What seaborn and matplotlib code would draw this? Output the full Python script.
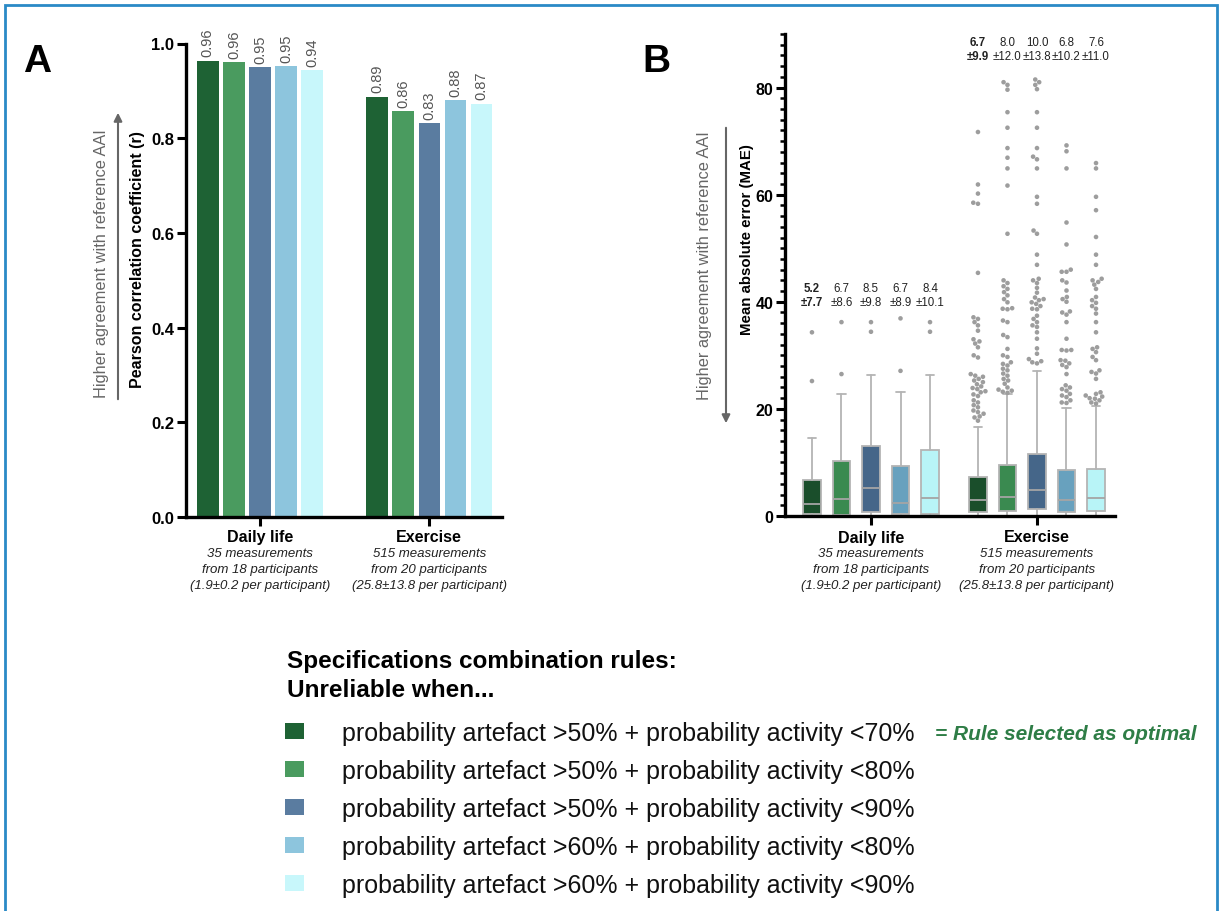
import numpy as np
import pandas as pd
import matplotlib
matplotlib.use("Agg")
import matplotlib.pyplot as plt
import matplotlib.patches as mpatches
from matplotlib.ticker import MultipleLocator
import seaborn as sns

# ------------------------------------------------------------------
# data
# ------------------------------------------------------------------
groups = ['Daily life', 'Exercise']
group_notes = ['35 measurements\nfrom 18 participants\n(1.9±0.2 per participant)',
               '515 measurements\nfrom 20 participants\n(25.8±13.8 per participant)']
rules = ['probability artefact >50% + probability activity <70%',
         'probability artefact >50% + probability activity <80%',
         'probability artefact >50% + probability activity <90%',
         'probability artefact >60% + probability activity <80%',
         'probability artefact >60% + probability activity <90%']
colors_a = ['#1e6234', '#4a9b5f', '#5a7ca0', '#8dc5dd', '#c8f7fb']
colors_b = ['#1a4e2b', '#3a8a50', '#456689', '#68a1be', '#b8f4f7']

# panel A: Pearson r
pearson_daily = [0.964, 0.960, 0.950, 0.953, 0.943]
pearson_exercise = [0.888, 0.857, 0.832, 0.880, 0.873]

# panel B: mean +- sd annotations
mae_mean_daily = [5.2, 6.7, 8.5, 6.7, 8.4]
mae_sd_daily = [7.7, 8.6, 9.8, 8.9, 10.1]
mae_mean_ex = [6.7, 8.0, 10.0, 6.8, 7.6]
mae_sd_ex = [9.9, 12.0, 13.8, 10.2, 11.0]

# panel B: box summary (whisker low, q1, median, q3, whisker high)
daily_wlo = [0, 0, 0, 0, 0]
daily_q1 = [0.4, 0.1, 0.7, 0.4, 0.3]
daily_med = [2.3, 3.2, 5.2, 2.4, 3.4]
daily_q3 = [6.8, 10.2, 13.0, 9.4, 12.3]
daily_whi = [14.6, 22.7, 26.4, 23.1, 26.4]
ex_wlo = [0, 0, 0, 0, 0]
ex_q1 = [0.8, 1.0, 1.3, 0.8, 0.9]
ex_med = [2.9, 3.6, 4.9, 3.0, 3.4]
ex_q3 = [7.35, 9.6, 11.5, 8.5, 8.8]
ex_whi = [16.7, 22.8, 27.0, 20.2, 20.6]

# panel B: outliers
daily_out = [[34.3, 25.2], [36.2, 26.5], [36.2, 34.4], [36.9, 27.1], [36.2, 34.4]]
ex_out = [
    [71.7, 61.9, 60.2, 58.5, 58.3, 45.4, 37.1, 36.8, 36.2, 35.6, 34.6, 33.0, 32.6, 32.2,
     31.5, 30.0, 29.6, 26.5, 26.2, 26.0, 25.6, 25.3, 25.0, 24.6, 24.2, 23.9, 23.7, 23.3,
     23.1, 22.7, 22.4, 21.6, 21.2, 20.7, 20.3, 19.7, 19.4, 19.1, 18.6, 18.4, 17.8],
    [81.0, 80.5, 79.6, 75.4, 72.5, 68.7, 66.9, 64.9, 61.7, 52.7, 44.0, 43.5, 42.9, 42.4,
     41.8, 41.2, 40.5, 39.9, 38.8, 38.7, 38.6, 36.5, 36.2, 33.8, 33.4, 31.2, 30.0, 29.7,
     28.7, 28.4, 28.1, 27.5, 27.2, 26.6, 26.2, 25.6, 25.3, 24.7, 24.0, 23.6, 23.4, 23.2, 23.0],
    [81.5, 81.0, 80.5, 79.7, 75.4, 72.5, 68.7, 67.1, 66.6, 64.9, 59.6, 58.3, 53.3, 52.7,
     48.8, 46.9, 44.3, 44.0, 43.5, 42.6, 41.7, 40.8, 40.5, 40.3, 39.9, 39.6, 39.2, 38.7,
     38.6, 37.4, 36.8, 36.2, 35.6, 35.3, 34.3, 33.1, 31.3, 30.3, 29.3, 28.9, 28.7, 28.5],
    [69.2, 68.1, 64.9, 54.8, 50.7, 46.0, 45.6, 45.6, 44.0, 43.6, 42.1, 40.9, 40.5, 40.0,
     38.2, 38.0, 37.6, 36.2, 33.1, 31.0, 31.0, 30.9, 29.1, 29.0, 28.5, 28.2, 27.8, 26.5,
     24.4, 24.0, 23.7, 23.4, 22.8, 22.5, 22.2, 21.6, 21.2, 21.1],
    [65.9, 64.9, 59.6, 57.1, 52.1, 48.8, 46.9, 44.3, 44.0, 43.7, 43.2, 42.4, 40.9, 40.3,
     39.8, 39.2, 38.7, 37.8, 36.2, 34.3, 31.5, 31.2, 30.6, 29.7, 29.1, 27.2, 26.9, 26.6,
     25.6, 23.1, 22.8, 22.5, 22.3, 22.0, 21.9, 21.6, 21.2, 21.0],
]

# ------------------------------------------------------------------
# setup
# ------------------------------------------------------------------
sns.set_theme(style="ticks")
plt.rcParams['font.family'] = ['Liberation Sans', 'DejaVu Sans']
plt.rcParams['text.color'] = 'black'
plt.rcParams['xtick.color'] = 'black'
plt.rcParams['ytick.color'] = 'black'

W, H = 1220, 912
fig = plt.figure(figsize=(W / 100, H / 100), dpi=100)


def fx(x):
    return x / W


def fy(y):
    return 1 - y / H


axA = fig.add_axes([fx(186), fy(518), (502 - 186) / W, (518 - 44.5) / H])
axB = fig.add_axes([fx(785), fy(517), (1115 - 785) / W, (517 - 35) / H])

# ------------------------------------------------------------------
# panel A
# ------------------------------------------------------------------
df_a = pd.DataFrame({
    'group': np.repeat(groups, len(rules)),
    'rule': rules * 2,
    'r': pearson_daily + pearson_exercise,
})
sns.barplot(data=df_a, x='group', y='r', hue='rule', order=groups, hue_order=rules,
            palette=colors_a, saturation=1, width=0.77, gap=0.18, errorbar=None,
            legend=False, linewidth=0, ax=axA)
for cont in axA.containers:
    axA.bar_label(cont, fmt='%.2f', rotation=90, padding=3, color='#555555',
                  fontsize=10.5)

axA.set_ylim(0, 1.0)
axA.set_xlim(-0.437, 1.43)
yt = np.arange(0, 1.01, 0.2)
axA.set_yticks(yt)
axA.set_yticklabels([f'{v:.1f}' for v in yt], fontweight='bold', fontsize=12)
axA.set_xticks([0, 1])
axA.set_xticklabels(['', ''])
axA.set_xlabel('')
axA.set_ylabel('')

# ------------------------------------------------------------------
# panel B
# ------------------------------------------------------------------
dodge_w = 0.889
step = dodge_w / len(rules)
offsets = (np.arange(len(rules)) - 2) * step

rows = []
for gi, outs in enumerate([daily_out, ex_out]):
    for k, vals in enumerate(outs):
        for v in vals:
            rows.append({'pos': round(gi + offsets[k], 4), 'rule': rules[k], 'mae': v})
df_out = pd.DataFrame(rows)

sns.swarmplot(data=df_out, x='pos', y='mae', hue='rule', hue_order=rules,
              native_scale=True, palette={r: '#9d9d9d' for r in rules}, size=3.3,
              linewidth=0, legend=False, ax=axB, warn_thresh=1)

stats = []
positions = []
box_colors = []
summ = [(daily_wlo, daily_q1, daily_med, daily_q3, daily_whi),
        (ex_wlo, ex_q1, ex_med, ex_q3, ex_whi)]
for gi, (wlo, q1, med, q3, whi) in enumerate(summ):
    for k in range(len(rules)):
        stats.append({'whislo': wlo[k], 'q1': q1[k], 'med': med[k], 'q3': q3[k],
                      'whishi': whi[k], 'fliers': []})
        positions.append(gi + offsets[k])
        box_colors.append(colors_b[k])

line_c = '#b4b4b4'
bp = axB.bxp(stats, positions=positions, widths=0.108, patch_artist=True,
             showfliers=False, manage_ticks=False, capwidths=0.05,
             boxprops=dict(edgecolor=line_c, linewidth=1.3),
             whiskerprops=dict(color=line_c, linewidth=1.3),
             capprops=dict(color=line_c, linewidth=1.3),
             medianprops=dict(color='#a5a5a5', linewidth=1.3))
for patch, c in zip(bp['boxes'], box_colors):
    patch.set_facecolor(c)

# mean +- sd above the boxes
for gi, (means, sds, ytxt) in enumerate([(mae_mean_daily, mae_sd_daily, 41.2),
                                          (mae_mean_ex, mae_sd_ex, 87.2)]):
    for k in range(len(rules)):
        axB.text(gi + offsets[k], ytxt, f'{means[k]:.1f}\n±{sds[k]:.1f}',
                 ha='center', va='center', fontsize=8.3, color='#222222',
                 fontweight='bold' if k == 0 else 'normal', linespacing=1.2)

axB.set_xlim(-0.518, 1.47)
axB.set_ylim(0, 90)
axB.set_yticks([0, 20, 40, 60, 80])
axB.set_yticklabels(['0', '20', '40', '60', '80'], fontweight='bold', fontsize=11.5)
axB.yaxis.set_minor_locator(MultipleLocator(2))
axB.set_xticks([0, 1])
axB.set_xticklabels(['', ''])
axB.set_xlabel('')
axB.set_ylabel('')

# ------------------------------------------------------------------
# shared axis styling
# ------------------------------------------------------------------
for ax, ybase in [(axA, (518, 474)), (axB, (517, 482))]:
    sns.despine(ax=ax)
    for s in ['left', 'bottom']:
        ax.spines[s].set_linewidth(2.4)
        ax.spines[s].set_color('black')
    ax.tick_params(axis='both', which='major', length=6.5, width=2.2, color='black',
                   pad=2)
    ax.tick_params(axis='y', which='minor', length=3.8, width=1.8, color='black')
    ax.set_facecolor('white')
    y_lab = -(538 - ybase[0]) / ybase[1]
    y_note = -(570 - ybase[0]) / ybase[1]
    for gi in range(2):
        ax.text(gi, y_lab, groups[gi], transform=ax.get_xaxis_transform(),
                ha='center', va='center', fontweight='bold', fontsize=11.5)
        ax.text(gi, y_note, group_notes[gi], transform=ax.get_xaxis_transform(),
                ha='center', va='center', fontstyle='italic', fontsize=9.5,
                color='#222222', linespacing=1.45)

# y labels and the "higher agreement" arrows
fig.text(fx(137.5), fy(260), 'Pearson correlation coefficient (r)', rotation=90,
         ha='center', va='center', fontweight='bold', fontsize=11.5)
fig.text(fx(101.5), fy(264), 'Higher agreement with reference AAI', rotation=90,
         ha='center', va='center', color='#666666', fontsize=11.8)
fig.text(fx(747), fy(240), 'Mean absolute error (MAE)', rotation=90,
         ha='center', va='center', fontweight='bold', fontsize=10.8)
fig.text(fx(705), fy(266), 'Higher agreement with reference AAI', rotation=90,
         ha='center', va='center', color='#666666', fontsize=11.8)
fig.add_artist(mpatches.FancyArrowPatch((fx(118), fy(403)), (fx(118), fy(111)),
                                        transform=fig.transFigure, arrowstyle='-|>',
                                        mutation_scale=12, color='#666666', lw=1.5))
fig.add_artist(mpatches.FancyArrowPatch((fx(726), fy(126)), (fx(726), fy(427)),
                                        transform=fig.transFigure, arrowstyle='-|>',
                                        mutation_scale=12, color='#666666', lw=1.5))

# panel letters
fig.text(fx(37.5), fy(62), 'A', ha='center', va='center', fontweight='bold', fontsize=28)
fig.text(fx(656), fy(62), 'B', ha='center', va='center', fontweight='bold', fontsize=28)

# ------------------------------------------------------------------
# legend
# ------------------------------------------------------------------
fig.text(fx(287), fy(676), 'Specifications combination rules:\nUnreliable when...',
         ha='left', va='center', fontweight='bold', fontsize=17.5, linespacing=1.3)
handles = [mpatches.Patch(facecolor=c, edgecolor='none') for c in colors_a]
leg = fig.legend(handles, rules, loc='upper left', bbox_to_anchor=(fx(285), fy(722)),
                 frameon=False, fontsize=18, handlelength=0.76, handleheight=0.64,
                 handletextpad=1.52, labelspacing=0.56, borderaxespad=0, borderpad=0)
for t in leg.get_texts():
    t.set_color('#111111')
fig.text(fx(935), fy(735), '= Rule selected as optimal', ha='left', va='center',
         color='#2e7d46', fontweight='bold', fontstyle='italic', fontsize=15)

# blue frame
fig.add_artist(mpatches.Rectangle((fx(5), -0.05), fx(1212), 1.05 - 6 / H,
                                  transform=fig.transFigure, fill=False,
                                  edgecolor='#2a8ac6', linewidth=2))

fig.savefig('out.png', dpi=100, facecolor='white')
